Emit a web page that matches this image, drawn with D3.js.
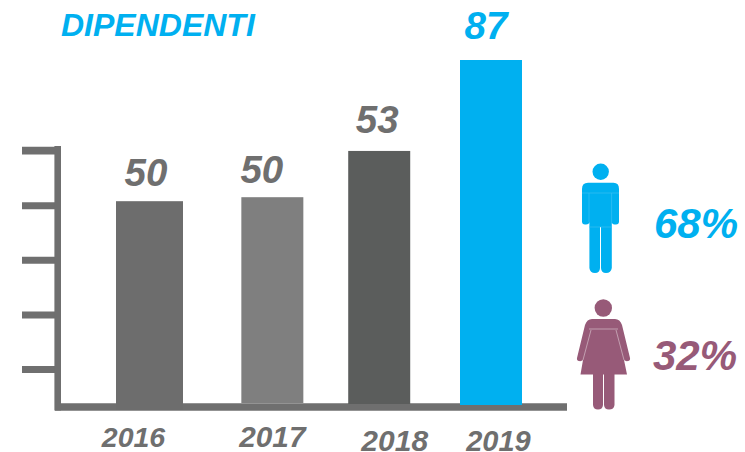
<!DOCTYPE html>
<html><head><meta charset="utf-8">
<script src="https://cdn.jsdelivr.net/npm/d3@7"></script>
<style>
html,body{margin:0;padding:0;background:#fff}
svg{display:block}
text{font-family:"Liberation Sans",Arial,sans-serif;font-weight:bold;font-style:italic}
</style></head><body>
<svg id="c" width="745" height="452"></svg>
<script>
const title = "DIPENDENTI";
const years = ["2016","2017","2018","2019"];
const values = [50,50,53,87];
// Bars in the picture are not proportional to their printed labels: drawn levels
const drawnLevels = [51.6,52.6,64.2,87];
const slots = [0,1,1.87,2.78];
const tickLevels = [9.5,23.2,36.9,50.6,64.3];
const barColors = ["#6d6d6d","#7f7f7f","#5b5d5c","#00b0f0"];
const labelColors = ["#6f6f6f","#6f6f6f","#6f6f6f","#00b0f0"];
const genders = ["68%","32%"];
const genderColors = ["#00b0f0","#975a78"];

const GREY="#6f6f6f";
const svg=d3.select("#c");
const y=d3.scaleLinear().domain([0,87]).range([407,60]);
const x=d3.scaleLinear().domain([0,2.78]).range([149.5,491]);
const barW=[67,62,62,62];
const labelDx=[-3.5,-10.5,-2,-5];
const yearDx=[-16,0,15.5,7.5];
const yearSize=[28.5,29.8,30,29];
const yearY=[447,447,450.5,450.5];
const labelY=[186,183,133,39];

// y axis
const gy=svg.append("g").attr("transform","translate(61,0)")
  .call(d3.axisLeft(y).tickValues(tickLevels).tickSize(39).tickFormat(""));
gy.select(".domain").remove();
gy.selectAll("line").attr("stroke",GREY).attr("stroke-width",7);
gy.append("line").attr("x1",-3.3).attr("x2",-3.3).attr("y1",146).attr("y2",410.5)
  .attr("stroke",GREY).attr("stroke-width",6.6);
gy.append("line").attr("x1",-39).attr("x2",-3).attr("y1",150.3).attr("y2",150.3)
  .attr("stroke",GREY).attr("stroke-width",7);

// x axis baseline
svg.append("line").attr("x1",55).attr("x2",567).attr("y1",407).attr("y2",407)
  .attr("stroke",GREY).attr("stroke-width",7.4);

// bars
svg.selectAll("rect.bar").data(years).join("rect").attr("class","bar")
  .attr("x",(d,i)=>x(slots[i])-barW[i]/2)
  .attr("width",(d,i)=>barW[i])
  .attr("y",(d,i)=>y(drawnLevels[i]))
  .attr("height",(d,i)=>y(0)-y(drawnLevels[i])-[-3,4,3,2][i])
  .attr("fill",(d,i)=>barColors[i]);

// value labels
svg.selectAll("text.val").data(values).join("text").attr("class","val")
  .attr("x",(d,i)=>x(slots[i])+labelDx[i])
  .attr("y",(d,i)=>labelY[i])
  .attr("text-anchor","middle").attr("font-size",38.5)
  .attr("fill",(d,i)=>labelColors[i]).text(d=>d);

// year labels
svg.selectAll("text.yr").data(years).join("text").attr("class","yr")
  .attr("x",(d,i)=>x(slots[i])+yearDx[i])
  .attr("y",(d,i)=>yearY[i])
  .attr("text-anchor","middle").attr("font-size",(d,i)=>yearSize[i])
  .attr("fill",GREY).text(d=>d);

// title
svg.append("text").attr("x",61).attr("y",36).attr("font-size",32)
  .attr("fill","#00b0f0").text(title);

// man icon
const man=svg.append("g").attr("fill",genderColors[0]);
man.append("circle").attr("cx",600.7).attr("cy",171.7).attr("r",8.2);
man.append("path").attr("d","M588 182.7H613.5Q619 182.7 619 189V221.5Q619 224.5 616 224.5H614.5Q611.8 224.5 611.8 221.5V268Q611 273 606 273Q601.2 273 601 268V227H600V268Q599.8 273 595 273Q590 273 589.4 268V221.5Q589.4 224.5 586 224.5H585Q582 224.5 582 221.5V189Q582 182.7 588 182.7Z");
man.append("path").attr("d","M589 193V222M611.6 193V222M582 193H619M589 227H611.6").attr("fill","none").attr("stroke","#3fc3f3").attr("stroke-width",.6);

// woman icon
const woman=svg.append("g").attr("fill",genderColors[1]);
woman.append("circle").attr("cx",603.3).attr("cy",308).attr("r",8.7);
woman.append("path").attr("d","M592 319H615Q620 319 622 325L630 358Q630.5 360.5 628 361Q625.5 361.5 624 360L627 374.5H614.5V405Q614 409.5 609 409.5Q604.5 409.5 604 405V374.5H603V405Q602.5 409.5 598 409.5Q593.5 409.5 593 405V374.5H580.5L583 360Q581.5 361.5 579 361Q576.5 360.5 577 358L585 325Q587 319 592 319Z");
woman.append("path").attr("d","M589 329H618M591 330L583 360M616 330L624 360").attr("fill","none").attr("stroke","#cdb0be").attr("stroke-width",.8);

// percent labels
svg.selectAll("text.pct").data(genders).join("text").attr("class","pct")
  .attr("x",(d,i)=>[654,653][i]).attr("y",(d,i)=>[238,370][i])
  .attr("font-size",42).attr("fill",(d,i)=>genderColors[i]).text(d=>d);
</script>
</body></html>
